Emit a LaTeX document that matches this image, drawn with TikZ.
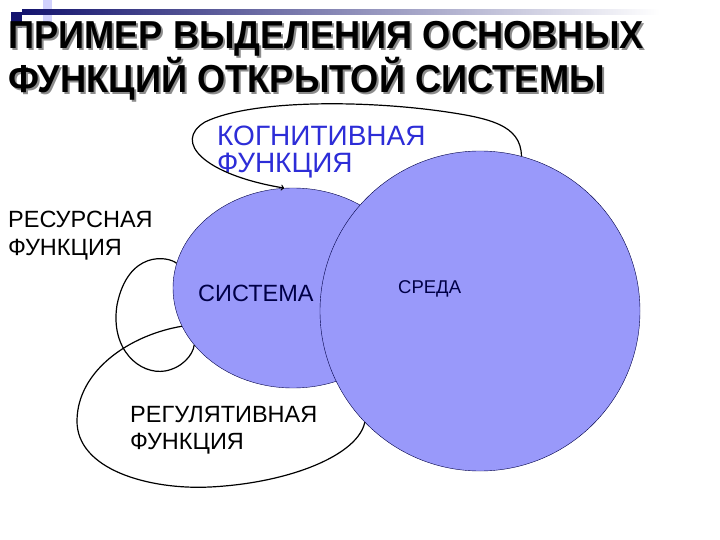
\documentclass[tikz,border=0pt]{standalone}
\usepackage{fontspec}
\setmainfont{Liberation Sans}
\newfontfamily\titlefont[FakeStretch=0.93]{Liberation Sans}
\usetikzlibrary{shapes.geometric}

\definecolor{lav}{RGB}{153,153,250}
\definecolor{navy}{RGB}{20,20,110}
\definecolor{cogblue}{RGB}{45,45,215}
\definecolor{dark}{RGB}{0,0,70}

\tikzset{
  lbl/.style={anchor=north west, inner sep=0pt, align=left,
    font=\fontsize{23.5}{27.5}\selectfont},
  ttl/.style={anchor=north west, inner sep=0pt, align=left,
    font=\titlefont\bfseries\fontsize{39}{36}\selectfont},
  loop/.style={line width=1.2pt},
}

\begin{document}
\begin{tikzpicture}[x=1pt, y=-1pt]
        \useasboundingbox (0,0) rectangle (720,540);

        % top strip
        \fill[lav!45] (43,0) rectangle (52,22);
        \shade[left color=navy, right color=white] (22,10) rectangle (660,15);
        \fill[navy] (11,12) rectangle (22,28);

        \node[ttl, text=black!45] (titleshadow) at (10,23) {ПРИМЕР ВЫДЕЛЕНИЯ ОСНОВНЫХ\\ФУНКЦИЙ ОТКРЫТОЙ СИСТЕМЫ};
        \node[ttl] (title) at (8,21) {ПРИМЕР ВЫДЕЛЕНИЯ ОСНОВНЫХ\\ФУНКЦИЙ ОТКРЫТОЙ СИСТЕМЫ};

        \node[ellipse, draw=dark, fill=lav, minimum width=240pt, minimum height=200pt, inner sep=0pt] (sys) at (293,288) {};
        \node[circle, draw=dark, fill=lav, minimum size=320pt, inner sep=0pt] (env) at (480,311) {};

        \node[lbl, text=dark] (systxt) at (198,285) {СИСТЕМА};
        \node[lbl, text=dark, font=\fontsize{18.5}{22}\selectfont] (envtxt) at (398,280) {СРЕДА};
        \node[lbl, text=cogblue, font=\fontsize{28}{27}\selectfont] (cog) at (217,126) {КОГНИТИВНАЯ\\ФУНКЦИЯ};
        \node[lbl] (res) at (8,211) {РЕСУРСНАЯ\\ФУНКЦИЯ};
        \node[lbl] (reg) at (130,406) {РЕГУЛЯТИВНАЯ\\ФУНКЦИЯ};

        \draw[loop, ->] (env.75) .. controls (521,125) and (490,118) .. (440,111)
            .. controls (360,100) and (250,100) .. (205,122)
            .. controls (172,142) and (205,175) .. (sys.95);
        \draw[loop] (sys.168) .. controls (168,256) and (128,250) .. (117,305)
            .. controls (110,350) and (140,375) .. (165,371)
            .. controls (182,368) and (193,355) .. (sys.210);
        \draw[loop] (sys.199) .. controls (130,335) and (78,370) .. (77,420)
            .. controls (76,470) and (150,490) .. (210,487)
            .. controls (290,483) and (358,455) .. (env.224);

      \end{tikzpicture}
\end{document}
